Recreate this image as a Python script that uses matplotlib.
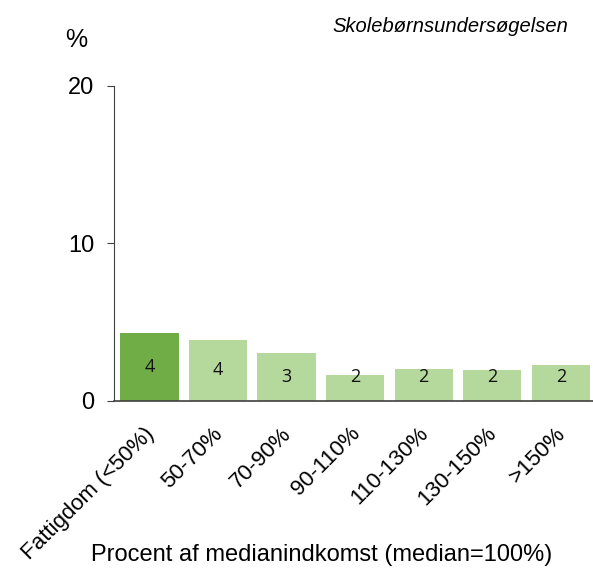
import matplotlib.pyplot as plt
import matplotlib.transforms as mtransforms
import numpy as np

categories = ['Fattigdom (<50%)', '50-70%', '70-90%', '90-110%', '110-130%', '130-150%', '>150%']
values = [4.34, 3.89, 3.05, 1.63, 2.01, 1.95, 2.29]
labels = ['4', '4', '3', '2', '2', '2', '2']
colors = ['#70AD47'] + ['#B5D99C'] * 6

plt.rcParams['font.family'] = ['Liberation Sans', 'DejaVu Sans']

fig = plt.figure(figsize=(5.93, 5.72), dpi=100)
ax = fig.add_axes([0.192, 0.299, 0.808, 0.551])

x = np.arange(len(categories))
ax.bar(x, values, width=0.85, color=colors)
for xi, v, lab in zip(x, values, labels):
    ax.text(xi, max(v / 2, 1.5), lab, ha='center', va='center', fontsize=13,
            family=['Open Sans', 'DejaVu Sans'], color='#111111')

ax.set_xlim(-0.52, 6.47)
ax.set_ylim(0, 20)
ax.set_yticks([0, 10, 20])
ax.tick_params(axis='y', labelsize=17, length=5, pad=9, color='#404040')
ax.tick_params(axis='x', length=0, labelsize=16, pad=6)
ax.set_xticks(x)
ax.set_xticklabels(categories, rotation=45, ha='right', rotation_mode='anchor')
# shift the rotated labels down like the original
offset = mtransforms.ScaledTranslation(-0.06, -0.14, fig.dpi_scale_trans)
for lbl in ax.get_xticklabels():
    lbl.set_transform(lbl.get_transform() + offset)
ax.spines['top'].set_visible(False)
ax.spines['right'].set_visible(False)
ax.spines['left'].set_color('#404040')
ax.spines['bottom'].set_color('#404040')
ax.spines['bottom'].set_linewidth(1.2)

fig.text(0.128, 0.93, '%', fontsize=18, ha='center', va='center')
fig.text(0.958, 0.953, 'Skolebørnsundersøgelsen', fontsize=14.5, style='italic',
         ha='right', va='center')
fig.text(0.543, 0.03, 'Procent af medianindkomst (median=100%)', fontsize=17,
         ha='center', va='center')

fig.savefig('out.png', dpi=100)
